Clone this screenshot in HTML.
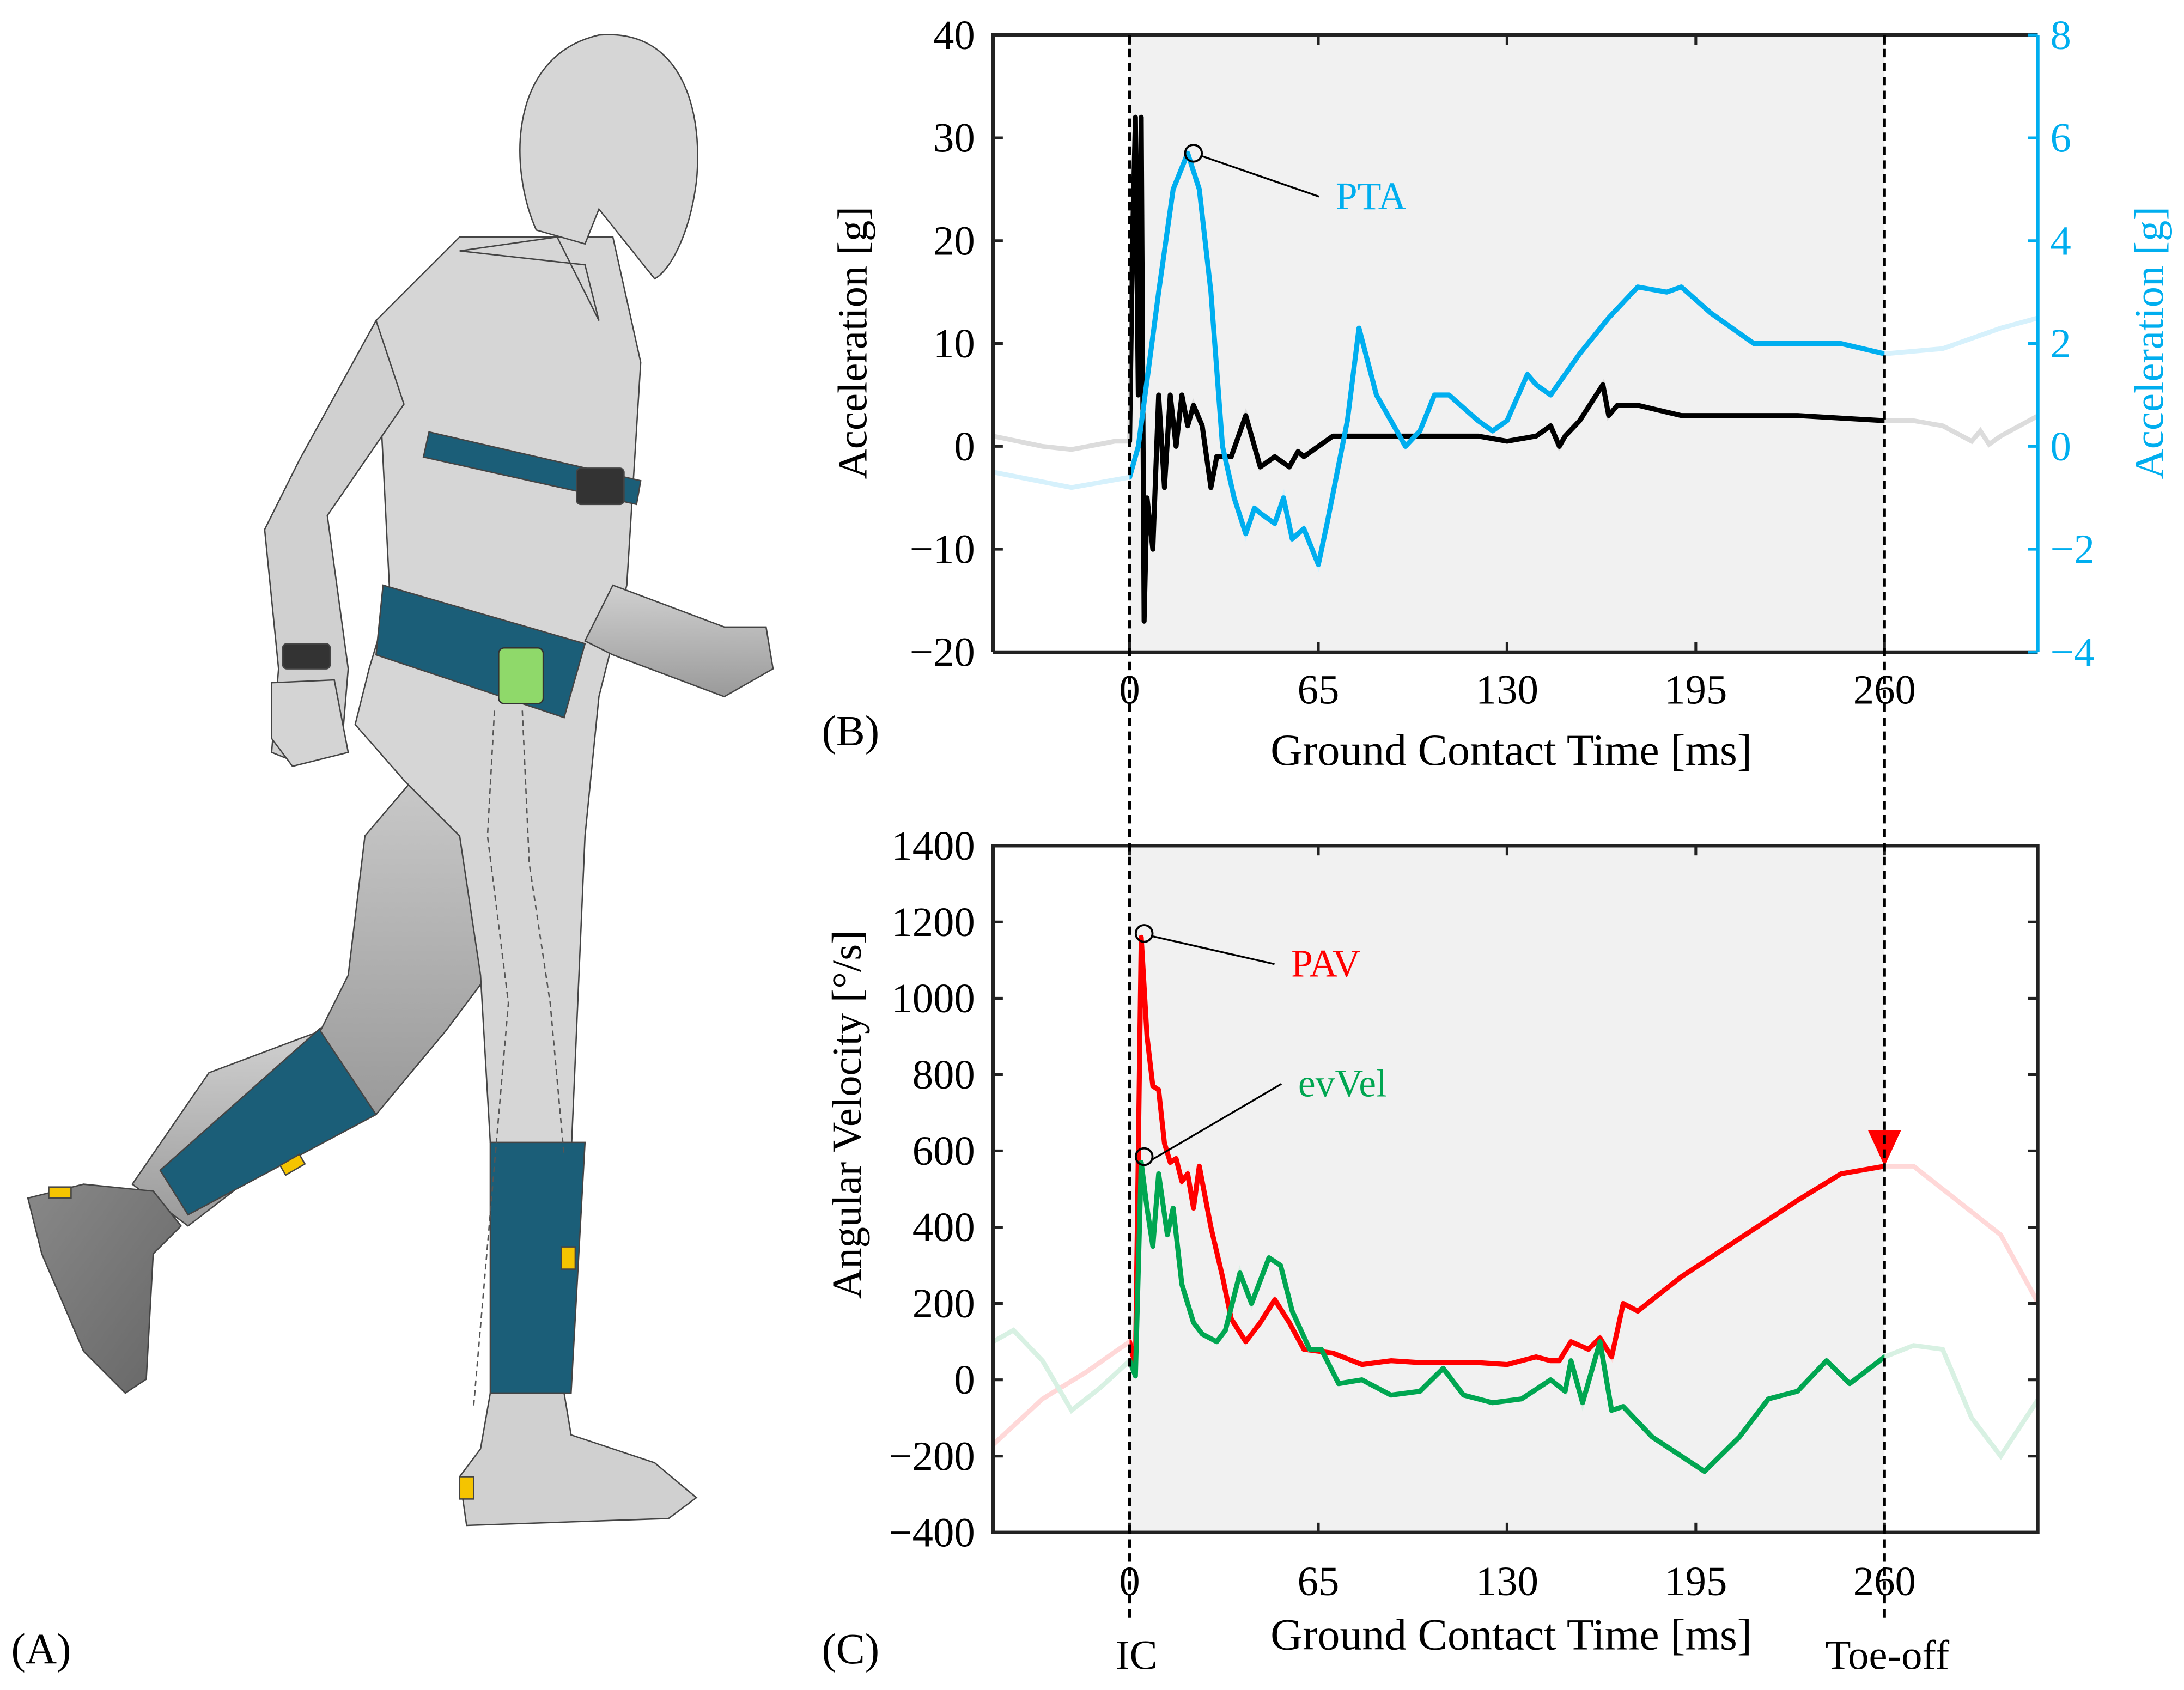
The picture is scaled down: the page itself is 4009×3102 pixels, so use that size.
<!DOCTYPE html>
<html><head><meta charset="utf-8"><style>
html,body{margin:0;padding:0;background:#fff}
svg{display:block}
text{font-family:"Liberation Serif",serif}
</style></head><body>
<svg id="s" width="4009" height="3102" viewBox="0 0 1568 1213" xmlns="http://www.w3.org/2000/svg">
<defs>
<clipPath id="cb"><rect x="713" y="25" width="750" height="443"/></clipPath>
<clipPath id="cc"><rect x="713" y="607" width="750" height="493"/></clipPath>
<clipPath id="cbIn"><rect x="811" y="0" width="542" height="1213"/></clipPath>
<linearGradient id="lg" x1="0" y1="0" x2="0" y2="1"><stop offset="0" stop-color="#d0d0d0"/><stop offset="1" stop-color="#9a9a9a"/></linearGradient>
<linearGradient id="sh" x1="0" y1="0" x2="1" y2="1"><stop offset="0" stop-color="#888"/><stop offset="1" stop-color="#666"/></linearGradient>
</defs>

<g stroke="#444" stroke-width="1">
  <path d="M95,850 L150,770 L230,740 L275,790 L200,830 L135,880 Z" fill="url(#lg)"/>
  <path d="M20,860 L60,850 L110,855 L130,880 L110,900 L105,990 L90,1000 L60,970 L30,900 Z" fill="url(#sh)"/>
  <path d="M115,840 L230,738 L270,800 L135,872 Z" fill="#1b5e78"/>
  <path d="M262,600 L330,520 L350,700 L320,740 L270,800 L230,740 L250,700 Z" fill="url(#lg)"/>
  <path d="M270,230 L330,170 L440,170 L460,260 L450,420 L430,500 L420,600 L410,830 L352,820 L345,700 L330,600 L290,560 L255,520 L265,480 L280,430 Z" fill="#d6d6d6"/>
  <path d="M352,820 L420,820 L410,1000 L352,1000 Z" fill="#1b5e78"/>
  <path d="M352,1000 L405,1000 L410,1030 L470,1050 L500,1075 L480,1090 L335,1095 L330,1060 L345,1040 Z" fill="#d0d0d0"/>
  <path d="M270,230 L215,330 L190,380 L200,480 L195,540 L215,548 L245,540 L250,480 L235,370 L290,290 Z" fill="#d0d0d0"/>
  <path d="M195,490 L240,488 L250,540 L210,550 L195,530 Z" fill="#d4d4d4"/>
  <path d="M440,420 L520,450 L550,450 L555,480 L520,500 L440,470 L420,460 Z" fill="url(#lg)"/>
  <path d="M330,180 L400,170 L430,230 L420,190 Z" fill="#d6d6d6"/>
  <path d="M385,165 C365,120 365,40 430,25 C490,20 505,80 500,130 C495,170 480,195 470,200 L430,150 L420,175 Z" fill="#d6d6d6"/>
  <path d="M308,310 L460,345 L457,362 L304,328 Z" fill="#1b5e78"/>
  <rect x="414" y="336" width="34" height="26" rx="3" fill="#333"/>
  <path d="M275,420 L420,462 L405,515 L270,470 Z" fill="#1b5e78"/>
  <rect x="358" y="465" width="32" height="40" rx="4" fill="#8fd96a" stroke="#333"/>
  <rect x="203" y="462" width="34" height="18" rx="3" fill="#333"/>
  <path d="M355,510 L350,600 L365,720 L340,1010 M375,510 L380,620 L395,720 L405,830" fill="none" stroke="#555" stroke-dasharray="4,3"/>
  <rect x="403" y="895" width="10" height="16" fill="#f5c400"/>
  <rect x="330" y="1060" width="10" height="16" fill="#f5c400"/>
  <rect x="35" y="852" width="16" height="8" fill="#f5c400"/>
  <rect x="202" y="832" width="16" height="8" fill="#f5c400" transform="rotate(-30 210 836)"/>
</g>
<text x="8" y="1194" font-size="31">(A)</text>

<rect x="811" y="25" width="542" height="443" fill="#f1f1f1"/>
<rect x="811" y="607" width="542" height="493" fill="#f1f1f1"/>
<g id="gB"></g>
<g id="gC"></g>
<line x1="811" y1="25" x2="811" y2="1162" stroke="#000" stroke-width="2" stroke-dasharray="6,4"/>
<line x1="1353" y1="25" x2="1353" y2="1162" stroke="#000" stroke-width="2" stroke-dasharray="6,4"/>
<text x="590" y="535" font-size="31">(B)</text>
<text x="590" y="1194" font-size="31">(C)</text>
<text x="1085" y="549" font-size="32" text-anchor="middle">Ground Contact Time [ms]</text>
<text x="1085" y="1184" font-size="32" text-anchor="middle">Ground Contact Time [ms]</text>
<text x="816" y="1198" font-size="30" text-anchor="middle">IC</text>
<text x="1355" y="1198" font-size="30" text-anchor="middle">Toe-off</text>
<text transform="translate(622,246) rotate(-90)" font-size="30" text-anchor="middle">Acceleration [g]</text>
<text transform="translate(1553,246) rotate(-90)" font-size="30" text-anchor="middle" fill="#00aeef">Acceleration [g]</text>
<text transform="translate(618,800) rotate(-90)" font-size="30" text-anchor="middle">Angular Velocity [°/s]</text>
</svg>
<script>
const xTicks=[0,65,130,195,260];
const bLeftTicks=[40,30,20,10,0,-10,-20];
const bRightTicks=[8,6,4,2,0,-2,-4];
const cTicks=[1400,1200,1000,800,600,400,200,0,-200,-400];
const blackT=[-47,-30,-20,-5,0,1,2,3,4,5,6,8,10,12,14,16,18,20,22,25,28,30,35,40,43,45,50,55,58,60,65,70,80,100,120,130,140,145,148,150,155,163,165,168,175,190,210,230,260,270,280,290,293,296,300,313];
const blackV=[1,0,-0.3,0.5,0.5,20,32,5,32,-17,-5,-10,5,-4,5,0,5,2,4,2,-4,-1,-1,3,0,-2,-1,-2,-0.5,-1,0,1,1,1,1,0.5,1,2,0,1,2.5,6,3,4,4,3,3,3,2.5,2.5,2,0.5,1.5,0.2,1,3];
const blueT=[-47,-20,0,3,10,15,20,24,28,32,36,40,43,45,50,53,56,60,65,68,75,79,85,90,95,100,105,110,120,125,130,137,140,145,155,165,175,185,190,200,215,230,245,260,280,300,313];
const blueV=[-0.5,-0.8,-0.6,0,3,5,5.7,5,3,0,-1,-1.7,-1.2,-1.3,-1.5,-1,-1.8,-1.6,-2.3,-1.5,0.5,2.3,1,0.5,0,0.3,1,1,0.5,0.3,0.5,1.4,1.2,1,1.8,2.5,3.1,3,3.1,2.6,2,2,2,1.8,1.9,2.3,2.5];
const redT=[-47,-30,-15,0,2,4,6,8,10,12,14,16,18,20,22,24,28,32,35,40,45,50,55,60,70,80,90,100,120,130,140,145,148,152,158,162,166,170,175,190,210,230,245,260,270,280,290,300,313];
const redV=[-170,-50,20,100,30,1160,900,770,760,620,570,580,520,540,450,560,400,270,160,100,150,210,150,80,70,40,50,45,45,40,60,50,50,100,80,110,60,200,180,270,370,470,540,560,560,500,440,380,200];
const greenT=[-47,-40,-30,-20,-10,0,2,4,6,8,10,13,15,18,22,25,30,33,38,42,48,52,56,62,66,72,80,90,100,108,115,125,135,145,150,152,156,162,166,170,180,190,198,210,220,230,240,248,260,270,280,290,300,313];
const greenV=[100,130,50,-80,-20,50,10,570,450,350,540,380,450,250,150,120,100,130,280,200,320,300,180,80,80,-10,0,-40,-30,30,-40,-60,-50,0,-30,50,-60,100,-80,-70,-150,-200,-240,-150,-50,-30,50,-10,60,90,80,-100,-200,-50];

const NS='http://www.w3.org/2000/svg';
const X=t=>811+(t/260)*542;
const YBL=v=>468-(v+20)/60*443;
const YBR=v=>468-(v+4)/12*443;
const YC=v=>1100-(v+400)/1800*493;
function el(tag,attrs,parent){const e=document.createElementNS(NS,tag);for(const k in attrs)e.setAttribute(k,attrs[k]);parent.appendChild(e);return e;}
function pathD(T,V,Y){return T.map((t,i)=>(i?'L':'M')+X(t).toFixed(2)+','+Y(V[i]).toFixed(2)).join('');}
const gB=document.getElementById('gB'), gC=document.getElementById('gC');
function series(g,T,V,Y,col,faded,clip,name){
  const f=el('path',{d:pathD(T,V,Y),fill:'none',stroke:faded,'stroke-width':3.4,'clip-path':clip},g);
  
  
  const w=el('g',{'clip-path':'url(#cbIn)'},g);
  const p=el('path',{d:pathD(T,V,Y),fill:'none',stroke:col,'stroke-width':3.6,'stroke-linejoin':'round','clip-path':clip},w);
  
  
}
series(gB,blackT,blackV,YBL,'#000','#dcdcdc','url(#cb)','black-acceleration-line');
series(gB,blueT,blueV,YBR,'#00aeef','#d6f1fc','url(#cb)','tibial-acceleration-line');
series(gC,redT,redV,YC,'#ff0000','#ffd8d8','url(#cc)','pav-line');
series(gC,greenT,greenV,YC,'#00a651','#d8f1e3','url(#cc)','evvel-line');

let a=el('path',{d:'M713,468 L713,25 L1463,25 M713,468 L1463,468',fill:'none',stroke:'#222','stroke-width':2.5},gB);


a=el('line',{x1:1463,y1:25,x2:1463,y2:468,stroke:'#00aeef','stroke-width':2.5},gB);


bLeftTicks.forEach(v=>{const y=YBL(v);
  el('line',{x1:713,y1:y,x2:720,y2:y,stroke:'#222','stroke-width':2},gB);
  const t=el('text',{x:700,y:y+10,'font-size':30,'text-anchor':'end'},gB);t.textContent=String(v).replace('-','\u2212');
  
  });
bRightTicks.forEach(v=>{const y=YBR(v);
  el('line',{x1:1456,y1:y,x2:1463,y2:y,stroke:'#00aeef','stroke-width':2},gB);
  const t=el('text',{x:1472,y:y+10,'font-size':30,fill:'#00aeef'},gB);t.textContent=String(v).replace('-','\u2212');
  
  });
a=el('rect',{x:713,y:607,width:750,height:493,fill:'none',stroke:'#222','stroke-width':2.5},gC);


cTicks.forEach(v=>{const y=YC(v);
  el('line',{x1:713,y1:y,x2:720,y2:y,stroke:'#222','stroke-width':2},gC);
  el('line',{x1:1456,y1:y,x2:1463,y2:y,stroke:'#222','stroke-width':2},gC);
  const t=el('text',{x:700,y:y+10,'font-size':30,'text-anchor':'end'},gC);t.textContent=String(v).replace('-','\u2212');
  
  });
xTicks.forEach(v=>{const x=X(v);
  [[gB,25,468,505],[gC,607,1100,1145]].forEach(([g,top,bot,ty])=>{
    el('line',{x1:x,y1:top,x2:x,y2:top+7,stroke:'#222','stroke-width':2},g);
    el('line',{x1:x,y1:bot,x2:x,y2:bot-7,stroke:'#222','stroke-width':2},g);
    const t=el('text',{x:x,y:ty,'font-size':30,'text-anchor':'middle'},g);t.textContent=v;
    
    });});

function annot(g,t,v,Y,lx,ly,label,col,name){
  const cx=X(t),cy=Y(v);
  el('circle',{cx:cx,cy:cy,r:6,fill:'none',stroke:'#000','stroke-width':1.5},g);
  el('line',{x1:cx+6,y1:cy+2,x2:lx,y2:ly,stroke:'#000','stroke-width':1.3},g);
  const tx=el('text',{x:lx+12,y:ly+9,'font-size':28,fill:col},g);tx.textContent=label;
  
  
}
annot(gB,22,5.7,YBR,947,141,'PTA','#00aeef','pta-label');
annot(gC,5,1170,YC,915,692,'PAV','#ff0000','pav-label');
annot(gC,5,585,YC,920,778,'evVel','#00a651','evvel-label');
const tri=el('path',{d:`M${X(260)-12},${YC(560)-26} L${X(260)+12},${YC(560)-26} L${X(260)},${YC(560)} Z`,fill:'#ff0000'},gC);


</script>
</body></html>
